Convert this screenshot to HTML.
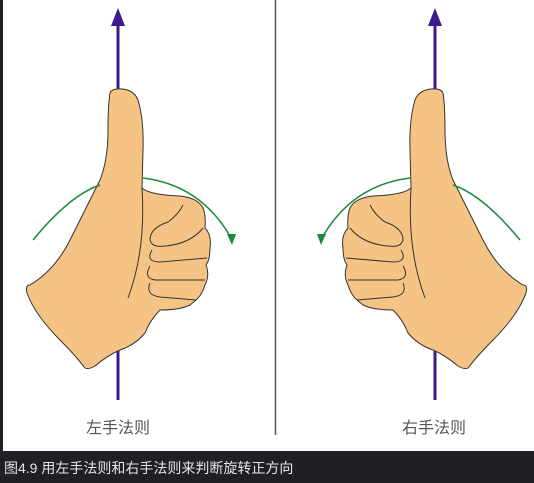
<!DOCTYPE html>
<html><head><meta charset="utf-8"><style>
html,body{margin:0;padding:0;width:534px;height:483px;overflow:hidden;background:#1f2023}
svg{display:block}
</style></head><body>
<svg width="534" height="483" viewBox="0 0 534 483" xmlns="http://www.w3.org/2000/svg">
<defs>
<g id="hand-unit">
  <line x1="118" y1="24" x2="118" y2="400" stroke="#3d1a8e" stroke-width="3"/>
  <polygon points="118,8 111,26 125,26" fill="#3d1a8e"/>
  <path d="M110,93 Q112,88 122,89 Q134,90 138,100 Q144,120 143,150 L142,188 Q150,195 180,196 Q198,198 203,208 Q206,215 205,228 Q212,235 210,248 Q210,260 206,265 Q210,275 205,285 Q202,295 196,300 L190,305 Q180,310 160,310 Q150,320 145,333 Q135,345 120,350 Q108,355 95,366 Q88,370 85,368 Q75,355 60,340 Q35,315 27,293 Q25,285 30,285 Q55,270 70,240 Q90,200 100,180 Q108,160 108,130 Q108,105 110,93 Z" fill="#f5c383" stroke="#333" stroke-width="1"/>
  <path d="M183,205 Q178,215 168,222 Q150,228 150,240 Q152,248 165,246 Q190,244 203,228" fill="none" stroke="#333" stroke-width="1"/>
  <path d="M152,250 Q145,262 160,262 L207,258" fill="none" stroke="#333" stroke-width="1"/>
  <path d="M150,266 Q143,278 155,280 L205,280" fill="none" stroke="#333" stroke-width="1"/>
  <path d="M150,283 Q145,295 160,297 L196,300" fill="none" stroke="#333" stroke-width="1"/>
  <path d="M142,188 Q146,250 128,298" fill="none" stroke="#333" stroke-width="1"/>
  <path d="M33,240 Q70,195 100,185" fill="none" stroke="#1a8a3c" stroke-width="1.5"/>
  <path d="M143,178 Q200,185 230,236" fill="none" stroke="#1a8a3c" stroke-width="1.5"/>
  <polygon points="232,245 227,234 236,234" fill="#1a8a3c"/>
</g>
</defs>
<rect x="3" y="0" width="531" height="451" fill="#ffffff"/>
<line x1="275.5" y1="0" x2="275.5" y2="435" stroke="#555" stroke-width="1.5"/>
<use href="#hand-unit"/>
<use href="#hand-unit" transform="translate(553,0) scale(-1,1)"/>
<text x="118" y="433" text-anchor="middle" font-family="'Liberation Sans','Noto Sans CJK SC',sans-serif" font-size="16" fill="#555">左手法则</text>
<text x="434" y="433" text-anchor="middle" font-family="'Liberation Sans','Noto Sans CJK SC',sans-serif" font-size="16" fill="#555">右手法则</text>
<text x="4" y="473" font-family="'Liberation Sans','Noto Sans CJK SC',sans-serif" font-size="14" fill="#e6e6e6">图4.9 用左手法则和右手法则来判断旋转正方向</text>
</svg>
</body></html>
